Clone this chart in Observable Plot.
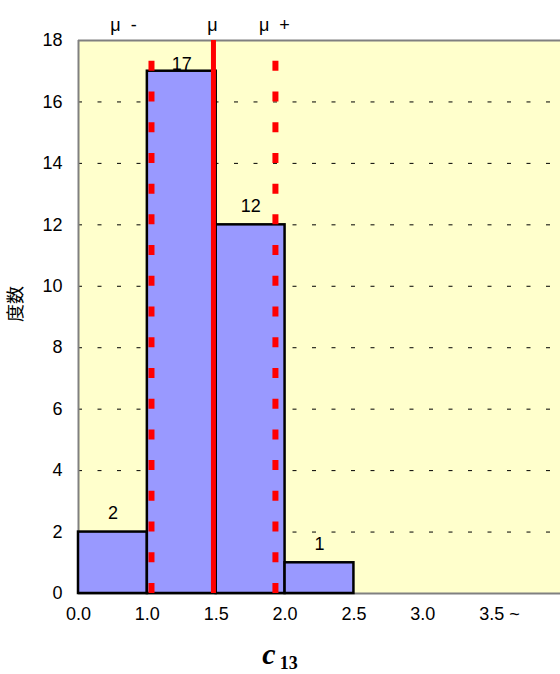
<!DOCTYPE html>
<html>
<head>
<meta charset="utf-8">
<script src="https://cdn.jsdelivr.net/npm/d3@7"></script>
<script src="https://cdn.jsdelivr.net/npm/@observablehq/plot@0.6"></script>
<style>
  body { margin: 0; background: white; }
  #wrap { position: relative; width: 560px; height: 674px; overflow: hidden; }
  #cap { position: absolute; left: 0; top: 639px; width: 560px; text-align: center;
         font-family: 'Liberation Serif', 'Times New Roman', serif; font-weight: bold;
         line-height: 30px; white-space: nowrap; color: black; }
  #cap .c { font-style: italic; font-size: 30px; }
  #cap .sub { font-size: 18px; line-height: 18px; position: relative; top: 5px; margin-left: 4px; }
</style>
</head>
<body>
<div id="wrap">
  <div id="chart"></div>
  <div id="cap"><span class="c">c</span><span class="sub">13</span></div>
</div>
<script>
// ---- data ----
const binLabels = ["0.0", "1.0", "1.5", "2.0", "2.5", "3.0", "3.5 ~"];
const binEdges = [0, 1.0, 1.5, 2.0, 2.5, 3.0, 3.5];
const counts = [2, 17, 12, 1, 0, 0, 0];
const yTicks = [0, 2, 4, 6, 8, 10, 12, 14, 16, 18];
const meanLabels = ["μ\u00a0\u00a0-", "μ", "μ\u00a0\u00a0+"];
const meanValues = [1.03, 1.48, 1.93];
const yLabel = "度数";

// value -> bin-index position (bins are drawn equal width)
const toIndex = d3.scaleLinear().domain(binEdges).range(d3.range(binEdges.length));

const bars = counts.map((c, i) => ({i, c}));
const shown = bars.filter(d => d.c > 0);
const maxCount = d3.max(counts);
const means = meanValues.map((v, k) => ({k, pos: toIndex(v), label: meanLabels[k]}));
const edges = binLabels.map((t, i) => ({i, t}));

const font = "'Liberation Sans', Arial, 'Noto Sans CJK JP', sans-serif";

const chart = Plot.plot({
  width: 560,
  height: 674,
  marginLeft: 78,
  marginRight: 0,
  marginTop: 40,
  marginBottom: 81,
  style: {fontFamily: font, fontSize: "18px", background: "white", color: "black", overflow: "visible"},
  x: {domain: [0, binLabels.length], axis: null},
  y: {domain: [0, 18], ticks: yTicks, tickSize: 0, tickPadding: 16, label: null},
  marks: [
    Plot.frame({fill: "#FFFFCC", stroke: "none"}),
    Plot.ruleY(yTicks.filter(t => t > 0 && t < 18), {stroke: "black", strokeWidth: 1, strokeDasharray: "4,15.5"}),
    Plot.ruleX([0], {stroke: "#808080", strokeWidth: 2}),
    Plot.ruleY([0, 18], {stroke: "#808080", strokeWidth: 2}),
    Plot.rectY(shown, {x1: d => d.i, x2: d => d.i + 1, y: d => d.c, fill: "#9999FF", stroke: "black", strokeWidth: 2.5}),
    Plot.text(shown.filter(d => d.c < maxCount), {x: d => d.i + 0.5, y: d => d.c, text: d => String(d.c), lineAnchor: "bottom", dy: -13, fill: "black"}),
    Plot.text(shown.filter(d => d.c === maxCount), {x: d => d.i + 0.5, y: d => d.c, text: d => String(d.c), lineAnchor: "bottom", dy: -1, fill: "black"}),
    Plot.ruleX(means.filter(d => d.k !== 1), {x: "pos", y1: 0, y2: 18, stroke: "#FF0000", strokeWidth: 6, strokeDasharray: "10,20.72"}),
    Plot.ruleX(means.filter(d => d.k === 1), {x: "pos", y1: 0, y2: 18, stroke: "#FF0000", strokeWidth: 5}),
    Plot.text(means.filter(d => d.k === 0), {x: "pos", frameAnchor: "top", text: "label", lineAnchor: "bottom", dy: -10, dx: -28, fill: "black"}),
    Plot.text(means.filter(d => d.k === 1), {x: "pos", frameAnchor: "top", text: "label", lineAnchor: "bottom", dy: -10, dx: -1, fill: "black"}),
    Plot.text(means.filter(d => d.k === 2), {x: "pos", frameAnchor: "top", text: "label", lineAnchor: "bottom", dy: -10, dx: -1, fill: "black"}),
    Plot.text(edges, {x: "i", frameAnchor: "bottom", text: "t", lineAnchor: "top", textAnchor: "start", dy: 14, dx: -12.5, fill: "black"}),
    Plot.text([yLabel], {frameAnchor: "left", text: d => d, rotate: -90, dx: -62, dy: 5, fill: "black"})
  ]
});
document.getElementById("chart").appendChild(chart);
</script>
</body>
</html>
